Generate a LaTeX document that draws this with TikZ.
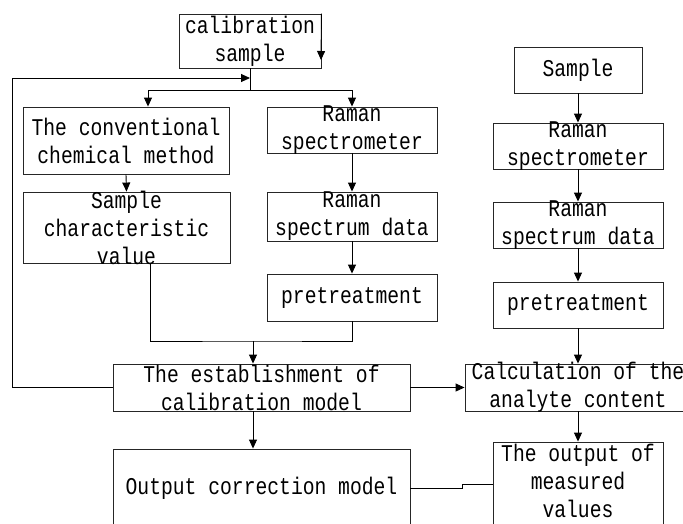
\documentclass[tikz,border=0pt]{standalone}
\usepackage{fontspec}
\setmainfont{Liberation Mono}[FakeStretch=0.82]
\usetikzlibrary{arrows.meta}

\begin{document}
\begin{tikzpicture}[x=1pt, y=-1pt, line width=0.9pt, >={Triangle[length=9pt,width=8pt]}]
\tikzstyle{box}=[rectangle, draw=black!85, inner sep=0pt]
\tikzstyle{txt}=[align=center, inner sep=0pt, font=\fontsize{24}{28}\selectfont]

	\useasboundingbox (0,0) rectangle (683,523);

	%left branch boxes
	\node[box, minimum width=142, minimum height=54] (cal) at (250,41) [label={[txt]center:{calibration\\sample}}] { };
	\node[box, minimum width=206, minimum height=67] (conv) at (126,140.5) [label={[txt]center:{The conventional\\chemical method}}] { };
	\node[box, minimum width=207, minimum height=71] (schar) at (126.5,227.5) [label={[txt]center:{Sample\\characteristic\\value}}] { };
	\node[box, minimum width=170, minimum height=46] (ram_l) at (352,130) [label={[txt]center:{Raman\\spectrometer}}] { };
	\node[box, minimum width=170, minimum height=49] (rsd_l) at (352,216.5) [label={[txt]center:{Raman\\spectrum data}}] { };
	\node[box, minimum width=170, minimum height=47] (pre_l) at (352,297.5) [label={[txt]center:pretreatment}] { };
	\node[box, minimum width=297, minimum height=47] (est) at (261.5,387.5) [label={[txt]center:{The establishment of\\calibration model}}] { };
	\node[box, minimum width=297, minimum height=78] (outc) at (261.5,488) [label={[txt]center:Output correction model}] { };

	%right branch boxes
	\node[box, minimum width=128, minimum height=46] (smp) at (578,70) [label={[txt]center:Sample}] { };
	\node[box, minimum width=170, minimum height=46] (ram_r) at (578,146) [label={[txt]center:{Raman\\spectrometer}}] { };
	\node[box, minimum width=170, minimum height=46] (rsd_r) at (578,225) [label={[txt]center:{Raman\\spectrum data}}] { };
	\node[box, minimum width=170, minimum height=46] (pre_r) at (578,305) [label={[txt]center:pretreatment}] { };
	\node[box, minimum width=226, minimum height=47] (calc) at (578,387.5) [label={[txt]center:{Calculation of the\\analyte content}}] { };
	\node[box, minimum width=170, minimum height=86] (outm) at (578,485) [label={[txt, yshift=4pt]center:{The output of\\measured\\values}}] { };

	%helper points
	\coordinate (split) at (250,90);
	\coordinate (merge) at (253,341);
	\coordinate (fb) at (12,78);
	\coordinate (fb_end) at (250,78);
	\coordinate (tick) at (321,60);

	%paths
	\draw (cal.south) -- (split);
	\draw[->] (split) -| ([xshift=22pt]conv.north);
	\draw[->] (split) -| (ram_l.north);
	\draw[->] (conv.south) -- (schar.north);
	\draw[->] (ram_l.south) -- (rsd_l.north);
	\draw[->] (rsd_l.south) -- (pre_l.north);
	\draw ([xshift=23.5pt]schar.south) |- (merge) -| (pre_l.south);
	\draw[->] (merge) -- (merge |- est.north);
	\draw[->] (merge |- est.south) -- (merge |- outc.north);
	\draw[->] (est.west) -| (fb) -- (fb_end);
	\draw[->] (cal.north east) -- (tick);
	\draw[->] (est.east) -- (calc.west);
	\draw[->] (smp.south) -- (ram_r.north);
	\draw[->] (ram_r.south) -- (rsd_r.north);
	\draw[->] (rsd_r.south) -- (pre_r.north);
	\draw[->] (pre_r.south) -- (calc.north);
	\draw[->] (calc.south) -- (outm.north);
	\draw (outc.east) -- ++(52,0) |- ([yshift=1pt]outm.west);

\end{tikzpicture}
\end{document}
